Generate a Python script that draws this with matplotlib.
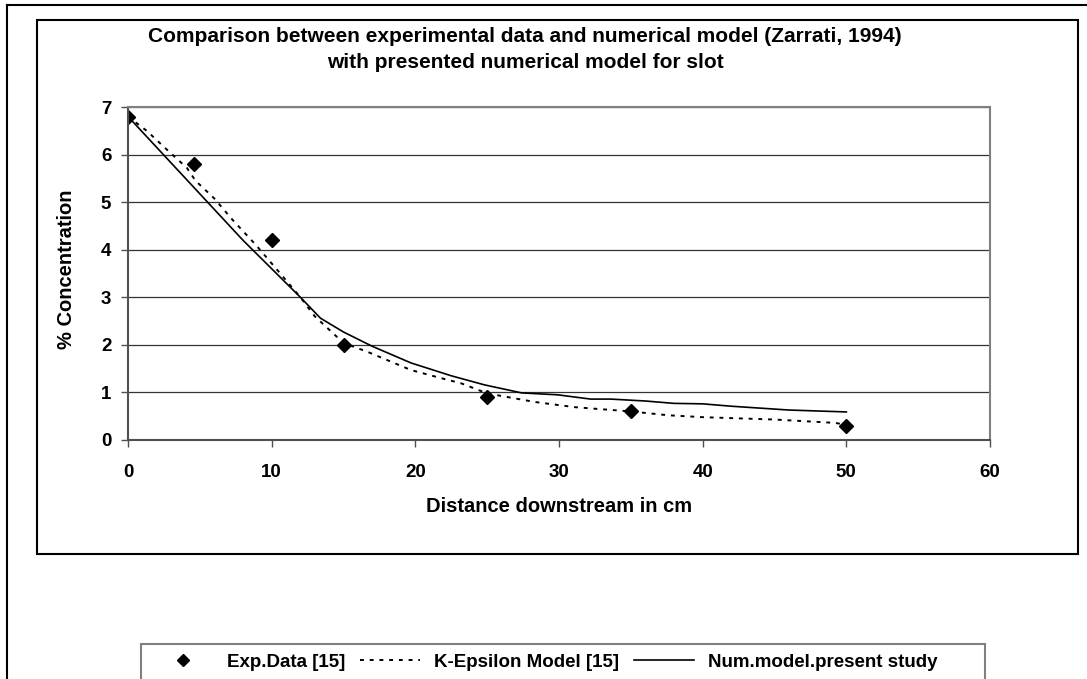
import matplotlib
matplotlib.use("Agg")
import matplotlib.pyplot as plt
from matplotlib.patches import Rectangle
from matplotlib.lines import Line2D

plt.rcParams['font.family'] = ['Liberation Sans', 'DejaVu Sans']
plt.rcParams['font.weight'] = 'bold'

# Experimental data
exp_x = [0, 4.6, 10, 15, 25, 35, 50]
exp_y = [6.8, 5.8, 4.2, 2.0, 0.9, 0.6, 0.3]

# K-Epsilon model (Zarrati, 1994)
ke_x = [0, 1.3, 2.9, 4.1, 4.7, 6, 7.3, 8.9, 10.6, 12, 13, 15, 16.7, 19.7, 21.8,
        23.2, 25, 28.3, 31.1, 35, 37.6, 40, 45, 49.2, 50]
ke_y = [6.8, 6.5, 6.05, 5.72, 5.45, 5.08, 4.62, 4.1, 3.5, 3.0, 2.6, 2.04, 1.85,
        1.47, 1.3, 1.19, 0.98, 0.8, 0.69, 0.6, 0.52, 0.48, 0.43, 0.36, 0.32]

# present numerical model
num_x = [0, 2, 4, 6, 8, 10, 12, 13.4, 15, 17, 19.7, 22.5, 24.8, 27.4, 29.9,
         32.2, 33.6, 36, 38, 40, 42, 44, 46, 48, 50]
num_y = [6.8, 6.15, 5.5, 4.85, 4.2, 3.6, 3.0, 2.56, 2.27, 1.97, 1.62, 1.35, 1.16,
         0.99, 0.95, 0.86, 0.86, 0.82, 0.77, 0.76, 0.71, 0.67, 0.63, 0.61, 0.59]

W, H = 1087, 679
fig = plt.figure(figsize=(W / 100, H / 100), dpi=100)


def fx(px):
    return px / W


def fy(py):
    return 1 - py / H


# outer frame (only top and left edges visible)
fig.add_artist(Line2D([fx(7), fx(7)], [fy(5), fy(690)], color='black', lw=1.5))
fig.add_artist(Line2D([fx(7), fx(1100)], [fy(5), fy(5)], color='black', lw=1.5))
# chart box
fig.add_artist(Rectangle((fx(37), fy(554)), fx(1078) - fx(37), fy(20) - fy(554),
                         fill=False, edgecolor='black', lw=1.5))
# legend box
fig.add_artist(Rectangle((fx(141), fy(700)), fx(985) - fx(141), fy(644) - fy(700),
                         fill=False, edgecolor='#808080', lw=1.5))

ax = fig.add_axes([fx(128), fy(440), fx(990) - fx(128), fy(107) - fy(440)])
ax.set_xlim(0, 60)
ax.set_ylim(0, 7)
ax.set_xticks(range(0, 61, 10))
ax.set_yticks(range(0, 8))
ax.grid(axis='y', color='#333333', lw=0.9)
ax.set_axisbelow(True)
for s in ax.spines.values():
    s.set_color('#808080')
    s.set_linewidth(1.5)
ax.spines['left'].set_color('#505050')
ax.spines['bottom'].set_color('#505050')
ax.tick_params(direction='out', length=5, width=1, color='#505050', labelsize=13.5)
ax.tick_params(axis='y', pad=7)
ax.tick_params(axis='x', pad=12)
for lab in ax.get_xticklabels() + ax.get_yticklabels():
    lab.set_fontweight('bold')

ax.plot(ke_x, ke_y, color='black', lw=1.4, ls=(0, (2, 3)), label='K-Epsilon Model [15]')
ax.plot(num_x, num_y, color='black', lw=1.2, label='Num.model.present study')
ax.plot(exp_x, exp_y, ls='none', marker='D', ms=7.5, color='black', label='Exp.Data [15]')

fig.text(fx(525), fy(37), 'Comparison between experimental data and numerical model (Zarrati, 1994)',
         ha='center', va='center', fontsize=15, fontweight='bold')
fig.text(fx(525), fy(63), 'with presented numerical model for slot',
         ha='center', va='center', fontsize=15, fontweight='bold')
fig.text(fx(66), fy(269), '% Concentration', rotation=90, ha='center', va='center',
         fontsize=14.5, fontweight='bold')
fig.text(fx(559), fy(507), 'Distance downstream in cm', ha='center', va='center',
         fontsize=14.5, fontweight='bold')

h, l = ax.get_legend_handles_labels()
order = [2, 0, 1]
fig.legend([h[i] for i in order], [l[i] for i in order], loc='center left',
           bbox_to_anchor=(fx(153), fy(662)), ncol=3, frameon=False,
           borderpad=0, borderaxespad=0,
           prop={'weight': 'bold', 'size': 13.5}, handlelength=3.2,
           handletextpad=0.75, columnspacing=0.8, markerscale=0.8)

fig.savefig('out.png', dpi=100)
